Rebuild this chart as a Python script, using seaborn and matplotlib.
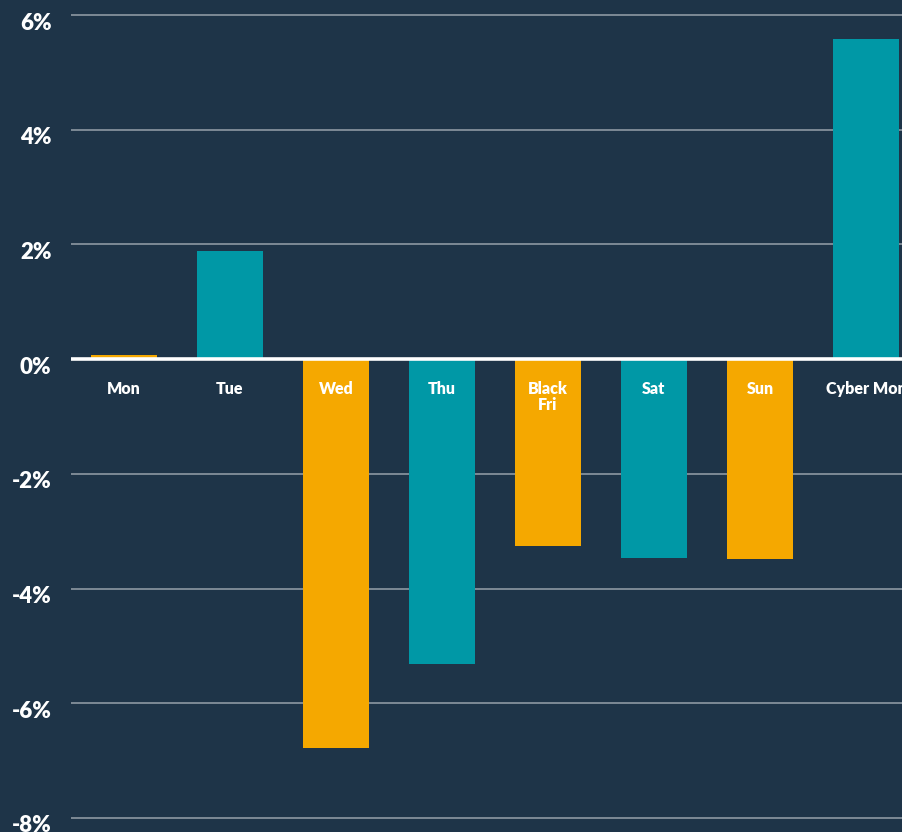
import matplotlib
matplotlib.use("Agg")
import matplotlib.pyplot as plt
import matplotlib.transforms as mtransforms
import seaborn as sns
import pandas as pd

categories = ["Mon", "Tue", "Wed", "Thu", "Black\nFri", "Sat", "Sun", "Cyber Mon"]
values = [0.07, 1.88, -6.78, -5.32, -3.25, -3.46, -3.49, 5.58]
bar_colors = ["#f5a800", "#0098a6", "#f5a800", "#0098a6", "#f5a800", "#0098a6", "#f5a800", "#0098a6"]
yticks = [6, 4, 2, 0, -2, -4, -6, -8]
ytick_labels = ["6%", "4%", "2%", "0%", "-2%", "-4%", "-6%", "-8%"]

BG = "#1e3448"

sns.set_theme(style="dark")
plt.rcParams["font.family"] = ["Lato", "DejaVu Sans"]

fig = plt.figure(figsize=(9.02, 8.32), dpi=100, facecolor=BG)
W, H = 902, 832
ppu = (818 - 15) / 14.0
ylo, yhi = -8.2, 6.2
ax_top_px = 15 - (yhi - 6) * ppu
ax_h_px = (yhi - ylo) * ppu
ax = fig.add_axes([71 / W, (H - ax_top_px - ax_h_px) / H, 848 / W, ax_h_px / H])
ax.set_facecolor(BG)

df = pd.DataFrame({"cat": categories, "val": values})
sns.barplot(data=df, x="cat", y="val", hue="cat", palette=bar_colors,
            legend=False, width=0.623, ax=ax, saturation=1, zorder=3,
            edgecolor="none", linewidth=0)

ax.set_xlim(-0.5, len(categories) - 0.5)
ax.set_ylim(ylo, yhi)
ax.set_yticks(yticks)
ax.set_yticklabels(ytick_labels)
ax.set_xticks([])
ax.set_xlabel("")
ax.set_ylabel("")
for s in ax.spines.values():
    s.set_visible(False)

ax.grid(False)
for t in yticks:
    if t == 0:
        continue
    ax.axhline(t, color="#7d8a96", lw=1.4, zorder=1)
ax.axhline(0, color="white", lw=2.6, zorder=4)

ax.tick_params(axis="y", length=0, pad=14, labelsize=16, labelcolor="white")
off = mtransforms.ScaledTranslation(0, -6 / 100, fig.dpi_scale_trans)
for lab in ax.get_yticklabels():
    lab.set_fontweight("heavy")
    lab.set_transform(lab.get_transform() + off)

for i, c in enumerate(categories):
    ax.text(i, -0.38, c, ha="center", va="top", color="white", fontsize=11.5,
            fontweight="heavy", linespacing=1.0, zorder=5)

fig.savefig("out.png", dpi=100, facecolor=BG)
